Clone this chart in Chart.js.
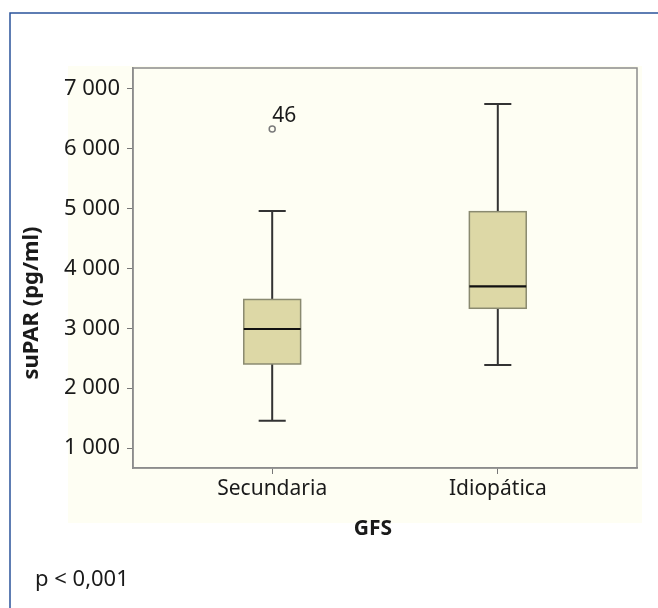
<!DOCTYPE html>
<html>
<head>
<meta charset="utf-8">
<script src="https://cdn.jsdelivr.net/npm/chart.js@4"></script>
<style>
  html, body { margin: 0; padding: 0; background: #fff; }
  canvas { display: block; }
</style>
</head>
<body>
<canvas id="chart" width="658" height="608"></canvas>
<script>
const categories = ['Secundaria', 'Idiopática'];
const whiskerLow = [1456, 2387];
const q1 = [2404, 3335];
const median = [2989, 3702];
const q3 = [3482, 4949];
const whiskerHigh = [4961, 6749];

const outlierGroup = [1];
const outlierValue = [6331];
const outlierLabel = ['46'];

const yTicks = [1000, 2000, 3000, 4000, 5000, 6000, 7000];

const FONT = "'Noto Sans', sans-serif";
const TEXT = '#1a1a1a';

const fmt = (v) => String(v).replace(/\B(?=(\d{3})+(?!\d))/g, ' ');

const boxPlot = {
  id: 'boxPlot',
  beforeDraw(chart) {
    const { ctx, chartArea: a } = chart;
    ctx.save();
    // blue frame (top + left)
    ctx.strokeStyle = '#2a539b';
    ctx.lineWidth = 1.5;
    ctx.beginPath();
    ctx.moveTo(10, 608);
    ctx.lineTo(10, 13);
    ctx.lineTo(658, 13);
    ctx.stroke();
    // cream panel
    ctx.fillStyle = '#fefef3';
    ctx.fillRect(a.left - 65, a.top - 2, a.right - a.left + 70, a.bottom - a.top + 57);
    ctx.restore();
  },
  beforeDatasetsDraw(chart) {
    const { ctx, chartArea: a, scales: { x, y } } = chart;
    ctx.save();
    // plot frame top/right
    ctx.strokeStyle = '#8c8c8c';
    ctx.lineWidth = 1.5;
    ctx.strokeRect(a.left, a.top, a.right - a.left, a.bottom - a.top);

    categories.forEach((c, i) => {
      const cx = x.getPixelForValue(i + 1);
      const bl = x.getPixelForValue(i + 1 - 0.126);
      const br = x.getPixelForValue(i + 1 + 0.126);
      const cl = x.getPixelForValue(i + 1 - 0.06);
      const cr = x.getPixelForValue(i + 1 + 0.06);
      const yLo = y.getPixelForValue(whiskerLow[i]);
      const yQ1 = y.getPixelForValue(q1[i]);
      const yMed = y.getPixelForValue(median[i]);
      const yQ3 = y.getPixelForValue(q3[i]);
      const yHi = y.getPixelForValue(whiskerHigh[i]);

      ctx.strokeStyle = '#333';
      ctx.lineWidth = 2;
      ctx.beginPath();
      ctx.moveTo(cx, yQ3); ctx.lineTo(cx, yHi);
      ctx.moveTo(cl, yHi); ctx.lineTo(cr, yHi);
      ctx.moveTo(cx, yQ1); ctx.lineTo(cx, yLo);
      ctx.moveTo(cl, yLo); ctx.lineTo(cr, yLo);
      ctx.stroke();

      ctx.fillStyle = '#ddd8a6';
      ctx.fillRect(bl, yQ3, br - bl, yQ1 - yQ3);
      ctx.strokeStyle = '#8a8a70';
      ctx.lineWidth = 1.5;
      ctx.strokeRect(bl, yQ3, br - bl, yQ1 - yQ3);

      ctx.strokeStyle = '#111';
      ctx.lineWidth = 2.2;
      ctx.beginPath();
      ctx.moveTo(bl, yMed); ctx.lineTo(br, yMed);
      ctx.stroke();
    });
    ctx.restore();
  },
  afterDraw(chart) {
    const { ctx, scales: { x, y } } = chart;
    ctx.save();
    ctx.fillStyle = TEXT;
    // outlier labels
    ctx.font = `21px ${FONT}`;
    ctx.textAlign = 'left';
    ctx.textBaseline = 'alphabetic';
    outlierGroup.forEach((g, i) => {
      ctx.fillText(outlierLabel[i], x.getPixelForValue(g), y.getPixelForValue(outlierValue[i]) - 7);
    });
    // axis titles
    ctx.font = `bold 21px ${FONT}`;
    ctx.textAlign = 'center';
    ctx.textBaseline = 'middle';
    ctx.fillText('GFS', 373, 529);
    ctx.save();
    ctx.translate(32, 303);
    ctx.rotate(-Math.PI / 2);
    ctx.font = `bold 22px ${FONT}`;
    ctx.fillText('suPAR (pg/ml)', 0, 0);
    ctx.restore();
    // note
    ctx.font = `22px ${FONT}`;
    ctx.textAlign = 'left';
    ctx.fillText('p < 0,001', 35, 580);
    ctx.restore();
  },
};

new Chart(document.getElementById('chart'), {
  type: 'scatter',
  data: {
    datasets: [{
      data: outlierGroup.map((g, i) => ({ x: g, y: outlierValue[i] })),
      pointRadius: 3,
      pointHoverRadius: 3,
      pointBorderWidth: 1.5,
      pointBorderColor: '#7a7a7a',
      pointBackgroundColor: '#fefef3',
    }],
  },
  options: {
    responsive: false,
    animation: false,
    events: [],
    layout: { padding: { left: 10, right: 21, top: 68, bottom: 60 } },
    plugins: { legend: { display: false }, tooltip: { enabled: false } },
    scales: {
      x: {
        type: 'linear',
        min: 0.383,
        max: 2.617,
        afterBuildTicks: (s) => { s.ticks = categories.map((c, i) => ({ value: i + 1 })); },
        afterFit: (s) => { s.height = 80; },
        ticks: {
          callback: (v) => categories[v - 1] || '',
          color: TEXT,
          font: { family: FONT, size: 21 },
          padding: 2,
          maxRotation: 0,
        },
        grid: { drawOnChartArea: false, drawTicks: true, tickLength: 6, color: '#777' },
        border: { display: true, color: '#8c8c8c', width: 1.5 },
      },
      y: {
        type: 'linear',
        min: 666,
        max: 7350,
        afterBuildTicks: (s) => { s.ticks = yTicks.map((v) => ({ value: v })); },
        afterFit: (s) => { s.width = 123; },
        ticks: {
          callback: (v) => fmt(v),
          color: TEXT,
          font: { family: FONT, size: 22 },
          padding: 7,
        },
        grid: { drawOnChartArea: false, drawTicks: true, tickLength: 6, color: '#777' },
        border: { display: true, color: '#8c8c8c', width: 1.5 },
      },
    },
  },
  plugins: [boxPlot],
});
</script>
</body>
</html>
